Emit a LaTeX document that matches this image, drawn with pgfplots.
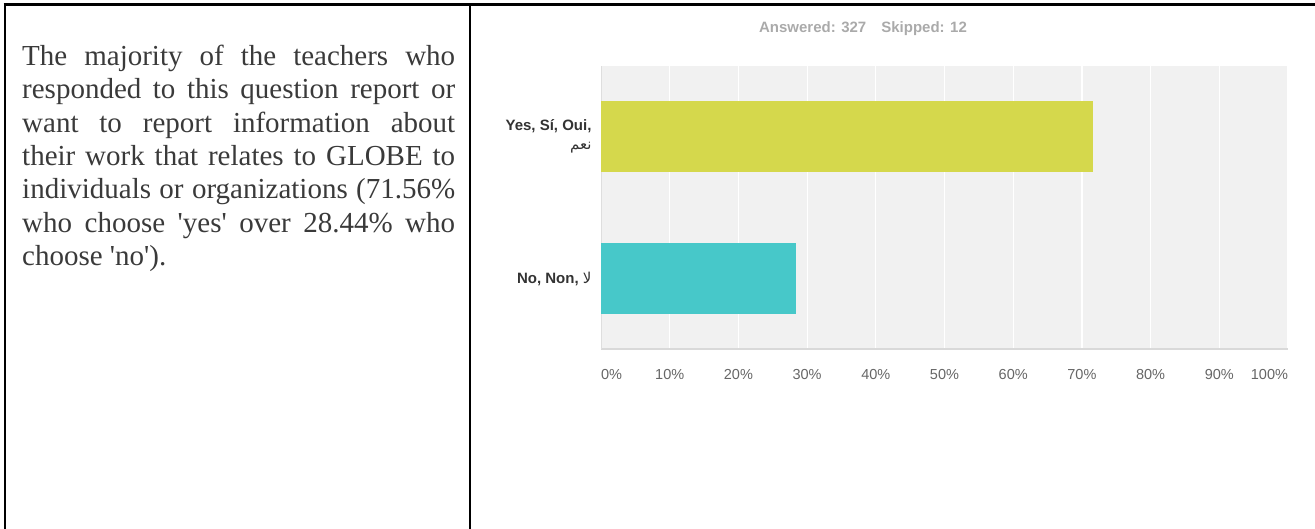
\documentclass[border=0pt]{standalone}
\usepackage{fontspec}
\usepackage{pgfplots}
\pgfplotsset{compat=1.18}
\setmainfont{Liberation Sans}
\newfontfamily\serif{Liberation Serif}[Ligatures=TeXOff]
\newfontfamily\arabicfont[Script=Arabic]{DejaVu Sans}
\TeXXeTstate=1
\definecolor{yesc}{RGB}{213,216,76}
\definecolor{noc}{RGB}{71,200,201}
\definecolor{bgc}{RGB}{241,241,241}
\definecolor{tickc}{RGB}{102,102,102}
\definecolor{labc}{RGB}{51,51,51}
\definecolor{titc}{RGB}{170,170,170}
\definecolor{txtc}{RGB}{58,58,58}
\begin{document}
\begin{tikzpicture}[x=1pt,y=1pt]
\path[use as bounding box] (0,0) rectangle (1315,-529);
% table frame
\draw[line width=3pt] (3.5,-5) -- (1315,-5);
\draw[line width=2.5pt] (5,-5) -- (5,-529);
\draw[line width=2.5pt] (470,-5) -- (470,-529);
% left text
\node[anchor=north west, inner sep=0pt, text width=433pt, align=justify,
      font=\serif\fontsize{29}{33.3}\selectfont, text=txtc] at (22,-45)
{The majority of the teachers who\linebreak
responded to this question report or\linebreak
want to report information about\linebreak
their work that relates to GLOBE to\linebreak
individuals or organizations (71.56\%\linebreak
who choose 'yes' over 28.44\% who\linebreak
choose 'no').};
% title
\node[font=\bfseries\fontsize{15}{17}\selectfont, text=titc] at (863,-29)
{Answered: 327\hspace{15pt}Skipped: 12};
\begin{axis}[
  at={(601pt,-349pt)}, anchor=south west,
  scale only axis, width=687pt, height=283pt,
  xbar,
  xmin=0, xmax=100, ymin=-0.496, ymax=1.496,
  axis background/.style={fill=bgc},
  xmajorgrids, major grid style={white, line width=1.2pt},
  axis x line*=bottom, axis y line*=left,
  x axis line style={draw=black!15, line width=2pt, -},
  y axis line style={draw=black!13, line width=1pt, -},
  major tick length=0pt,
  tick style={draw=none},
  xtick={0,10,...,100},
  xticklabels={\makebox[0pt][l]{0\%},10\%,20\%,30\%,40\%,50\%,60\%,70\%,80\%,90\%,\makebox[0pt][r]{100\%}},
  xticklabel style={font=\fontsize{14.5}{16}\selectfont, text=tickc},
  xticklabel shift=17pt,
  ytick={0,1},
  yticklabels={{No, Non, {\arabicfont\mdseries\beginR لا\endR}},{Yes, Sí, Oui,\\{\arabicfont\mdseries\beginR نعم\endR}}},
  yticklabel style={font=\bfseries\fontsize{15}{19}\selectfont, text=labc, align=right},
  yticklabel shift=6pt,
  clip=false,
]
\addplot[draw=none, fill=yesc, bar width=0.5, bar shift=0pt] coordinates {(71.56,1)};
\addplot[draw=none, fill=noc, bar width=0.5, bar shift=0pt] coordinates {(28.44,0)};
\end{axis}
\end{tikzpicture}
\end{document}
